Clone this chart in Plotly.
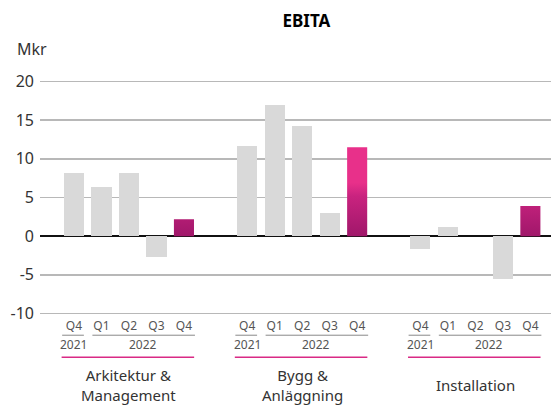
import plotly.graph_objects as go

# ---- data ----
segments = ["Arkitektur &<br>Management", "Bygg &<br>Anläggning", "Installation"]
quarters = ["Q4", "Q1", "Q2", "Q3", "Q4"]
years = ["2021", "2022"]
ark_values = [8.2, 6.4, 8.2, -2.7, 2.2]
bygg_values = [11.6, 17.0, 14.3, 3.0, 11.5]
inst_values = [-1.6, 1.2, 0.0, -5.5, 3.9]
y_ticks = [-10, -5, 0, 5, 10, 15, 20]
y_tick_text = ["-10", "-5", "0", "5", "10", "15", "20"]

series = [ark_values, bygg_values, inst_values]

GROUP_STEP = 6.3
BAR_W = 0.73
GRAY = "#d9d9d9"
FONT = "Noto Sans"

fig = go.Figure()

gray_x, gray_y = [], []
hx, hy = [], []
tickvals, ticktext = [], []
for g, vals in enumerate(series):
    for i, v in enumerate(vals):
        x = g * GROUP_STEP + i
        tickvals.append(x)
        ticktext.append(quarters[i])
        if i == len(vals) - 1:
            hx += [x - BAR_W / 2, x - BAR_W / 2, x + BAR_W / 2, x + BAR_W / 2, x - BAR_W / 2, None]
            hy += [0, v, v, 0, 0, None]
        else:
            gray_x.append(x)
            gray_y.append(v)

fig.add_trace(go.Bar(x=gray_x, y=gray_y, width=BAR_W, marker=dict(color=GRAY, line=dict(width=0)),
                     showlegend=False, hoverinfo="skip"))
fig.add_trace(go.Scatter(x=hx, y=hy, mode="lines", fill="toself", line=dict(width=0),
                         fillgradient=dict(type="vertical", start=0, stop=11.5,
                                           colorscale=[[0, "#a0176a"], [0.45, "#c9237f"], [0.6, "#e8308a"], [1, "#e8308a"]]),
                         showlegend=False, hoverinfo="skip"))

shapes = []
annotations = []
for g, vals in enumerate(series):
    x0 = g * GROUP_STEP
    # underline for 2021 (first bar)
    shapes.append(dict(type="line", xref="x", yref="paper", x0=x0 - 0.43, x1=x0 + 0.36,
                       y0=-0.086, y1=-0.086, line=dict(color="#888888", width=1)))
    # underline for 2022 (bars 1-4)
    shapes.append(dict(type="line", xref="x", yref="paper", x0=x0 + 1 - 0.33, x1=x0 + 4 + 0.4,
                       y0=-0.086, y1=-0.086, line=dict(color="#888888", width=1)))
    annotations.append(dict(x=x0, y=-0.124, xref="x", yref="paper", text=years[0], showarrow=False,
                            font=dict(size=12, color="#555555", family=FONT), yanchor="middle"))
    annotations.append(dict(x=x0 + 2.5, y=-0.124, xref="x", yref="paper", text=years[1], showarrow=False,
                            font=dict(size=12, color="#555555", family=FONT), yanchor="middle"))
    # magenta line
    shapes.append(dict(type="line", xref="x", yref="paper", x0=x0 - 0.45, x1=x0 + 4 + 0.37,
                       y0=-0.18, y1=-0.18, line=dict(color="#d92a85", width=1.5)))
    annotations.append(dict(x=x0 + 2, y=-0.297, xref="x", yref="paper", text=segments[g], showarrow=False,
                            font=dict(size=15, color="#333333", family=FONT), yanchor="middle"))

annotations.append(dict(x=-0.049, y=1.133, xref="paper", yref="paper", text="Mkr", showarrow=False,
                        xanchor="left", yanchor="middle", font=dict(size=16, color="#333333", family=FONT)))

fig.update_layout(
    width=551, height=407,
    margin=dict(l=40, r=0, t=80, b=92),
    paper_bgcolor="white", plot_bgcolor="white",
    title=dict(text="<b>EBITA</b>", x=0.556, xanchor="center", y=0.948, yanchor="middle",
               font=dict(size=17, color="#000000", family=FONT)),
    font=dict(family=FONT),
    bargap=0,
    shapes=shapes,
    annotations=annotations,
    xaxis=dict(range=[-1.236, 17.35], tickvals=tickvals, ticktext=ticktext, showgrid=False,
               zeroline=False, showline=False, ticks="", ticklabelstandoff=2,
               tickfont=dict(size=12, color="#555555", family=FONT), fixedrange=True),
    yaxis=dict(range=[-10.2, 20.2], tickvals=y_ticks, ticktext=y_tick_text, showgrid=True,
               gridcolor="#b8b8b8", gridwidth=1.5,
               zeroline=True, zerolinecolor="#111111", zerolinewidth=2, showline=False, ticks="",
               ticklabelstandoff=5, tickfont=dict(size=16, color="#333333", family=FONT), fixedrange=True),
)

fig.write_html("out.html", config={"staticPlot": True},
               post_script="document.body.style.margin='0';document.body.style.overflow='hidden';")
